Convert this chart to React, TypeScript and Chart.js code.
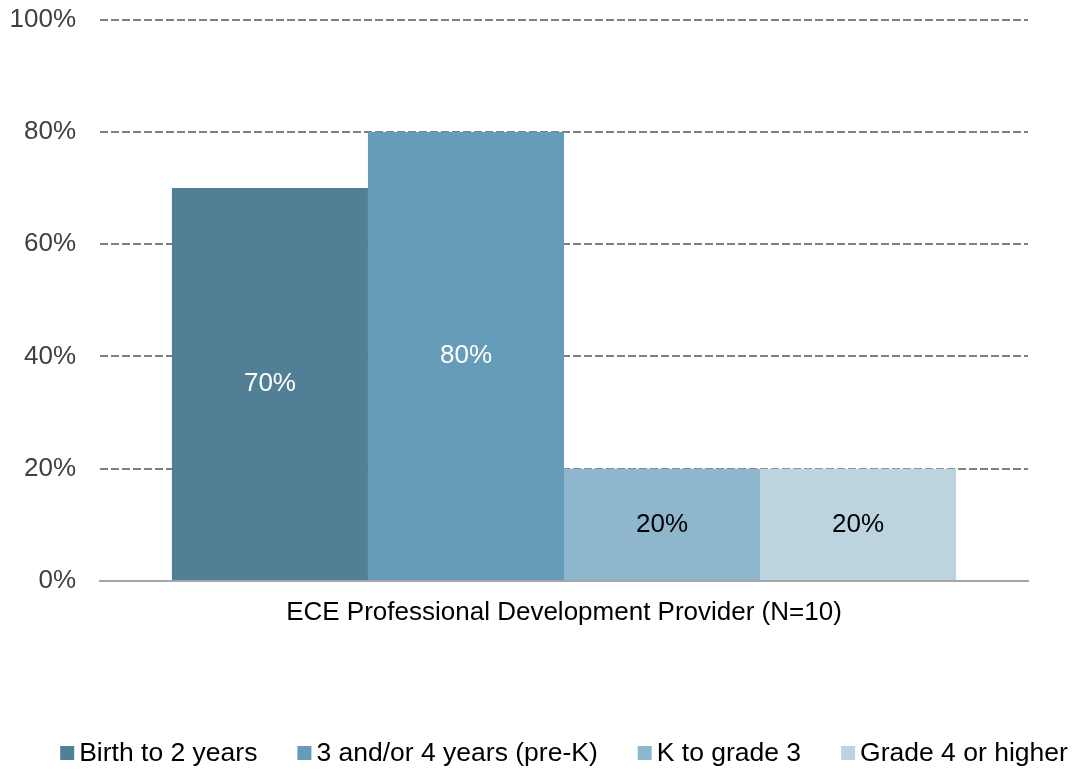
import React, { useEffect, useRef } from "react";
import { Chart, registerables } from "chart.js";

Chart.register(...registerables);

const categories = ["ECE Professional Development Provider (N=10)"];
const seriesNames = ["Birth to 2 years", "3 and/or 4 years (pre-K)", "K to grade 3", "Grade 4 or higher"];
const seriesValues = [[70], [80], [20], [20]];
const seriesColors = ["#507f96", "#659cb7", "#8eb6cc", "#bcd3e0"];
const labelColors = ["#ffffff", "#ffffff", "#000000", "#000000"];
const yTicks = [0, 20, 40, 60, 80, 100];

const FONT = "'Liberation Sans', Arial, sans-serif";
const FS = 26;
const SHIFT = 20;

const valueLabels = {
  id: "valueLabels",
  afterDatasetsDraw(chart: any) {
    const ctx = chart.ctx;
    ctx.save();
    ctx.font = `${FS}px ${FONT}`;
    ctx.textAlign = "center";
    ctx.textBaseline = "middle";
    chart.data.datasets.forEach((ds: any, i: number) => {
      const meta = chart.getDatasetMeta(i);
      meta.data.forEach((el: any, j: number) => {
        const v = ds.data[j];
        ctx.fillStyle = labelColors[i];
        ctx.fillText(`${v}%`, el.x, (el.y + el.base) / 2);
      });
    });
    ctx.restore();
  },
};

const bottomLegend = {
  id: "bottomLegend",
  afterDraw(chart: any) {
    const ctx = chart.ctx;
    ctx.save();
    ctx.font = `26.5px ${FONT}`;
    ctx.textBaseline = "middle";
    ctx.textAlign = "left";
    const box = 14;
    const gap = 5;
    const spacing = 40;
    const items = chart.data.datasets.map((ds: any) => ({
      text: ds.label,
      color: ds.backgroundColor,
      w: box + gap + ctx.measureText(ds.label).width,
    }));
    const total = items.reduce((s: number, it: any) => s + it.w, 0) + spacing * (items.length - 1);
    const cx = (chart.chartArea.left + chart.chartArea.right) / 2;
    let x = cx - total / 2;
    const y = 753 + SHIFT;
    items.forEach((it: any) => {
      ctx.fillStyle = it.color;
      ctx.fillRect(x, y - box / 2, box, box);
      ctx.fillStyle = "#000000";
      ctx.fillText(it.text, x + box + gap, y + 1);
      x += it.w + spacing;
    });
    ctx.restore();
  },
};

export default function App() {
  const ref = useRef<HTMLCanvasElement>(null);
  useEffect(() => {
    document.body.style.margin = "0";
    const chart = new Chart(ref.current!, {
      type: "bar",
      data: {
        labels: categories,
        datasets: seriesNames.map((name, i) => ({
          label: name,
          data: seriesValues[i],
          backgroundColor: seriesColors[i],
          borderWidth: 0,
          categoryPercentage: 0.845,
          barPercentage: 1,
        })),
      },
      options: {
        responsive: false,
        animation: false,
        layout: { padding: { left: 0, right: 48, top: 0, bottom: 130 } },
        plugins: {
          legend: { display: false },
          tooltip: { enabled: false },
        },
        scales: {
          x: {
            grid: { display: false, drawTicks: false },
            border: { display: true, color: "#a6a6a6", width: 2 },
            ticks: { color: "#000000", font: { family: FONT, size: FS }, padding: 16 },
            afterFit(scale: any) {
              scale.height = 60;
            },
          },
          y: {
            min: 0,
            max: 100,
            afterBuildTicks(scale: any) {
              scale.ticks = yTicks.map((v) => ({ value: v }));
            },
            grid: {
              drawTicks: false,
              color: (c: any) => (c.tick && c.tick.value === 0 ? "rgba(0,0,0,0)" : "#808080"),
              lineWidth: 2,
            },
            border: { display: false, dash: [8, 3] },
            ticks: {
              color: "#404040",
              font: { family: FONT, size: FS },
              padding: 24,
              callback: (v: any) => `${v}%`,
            },
            afterFit(scale: any) {
              scale.width = 100;
            },
          },
        },
      },
      plugins: [valueLabels, bottomLegend],
    });
    return () => chart.destroy();
  }, []);
  return (
    <div style={{ position: "absolute", left: 0, top: 0, width: 1076, height: 771, overflow: "hidden" }}>
      <canvas
        ref={ref}
        width={1076}
        height={771 + SHIFT}
        style={{ position: "absolute", left: 0, top: -SHIFT }}
      />
    </div>
  );
}
